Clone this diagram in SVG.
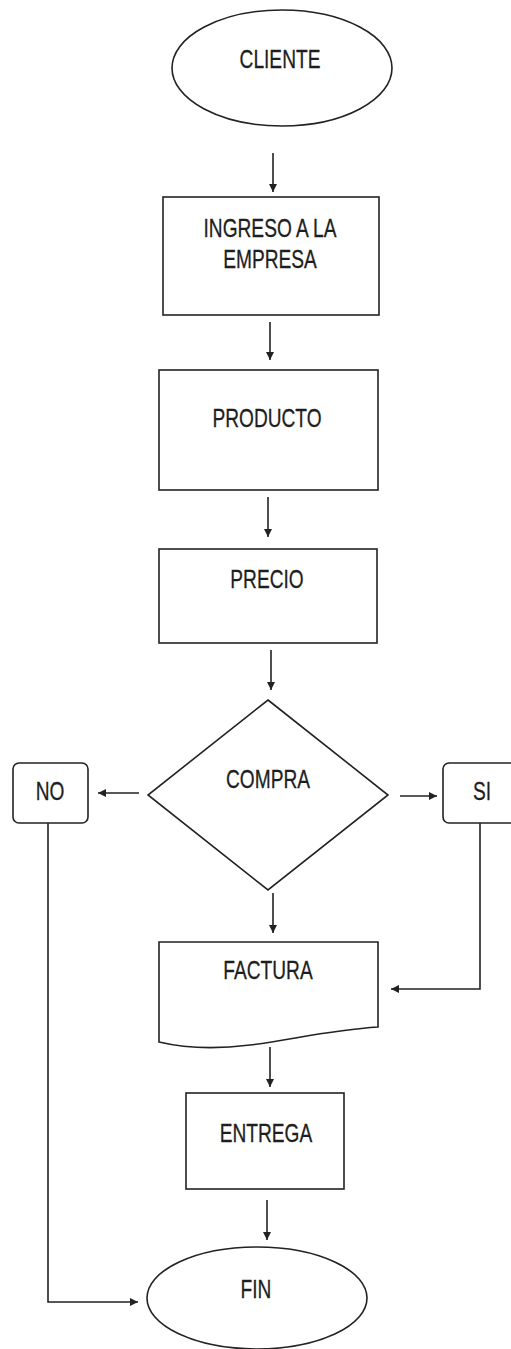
<svg xmlns="http://www.w3.org/2000/svg" width="511" height="1349" viewBox="0 0 511 1349">
<style>
.s{fill:#fff;stroke:#222;stroke-width:1.6}
.t{font-family:"Liberation Sans",Arial,sans-serif;font-size:22px;fill:#1e1e1e;text-anchor:middle;stroke:#1e1e1e;stroke-width:0.25}
.c{fill:none;stroke:#222;stroke-width:1.6}
</style>
<defs>
<marker id="ah" viewBox="0 0 10 10" refX="10" refY="5" markerWidth="9" markerHeight="8" markerUnits="userSpaceOnUse" orient="auto">
<path d="M0,0 L10,5 L0,10 z" fill="#222"/>
</marker>
</defs>
<rect width="511" height="1349" fill="#fff"/>
<g id="cliente"><ellipse class="s" cx="282" cy="68" rx="110" ry="58"/><text class="t" transform="translate(280,68) scale(0.87,1.2)">CLIENTE</text></g>
<g id="ingreso"><rect class="s" x="163" y="197" width="216" height="118"/><text class="t" transform="translate(270,237) scale(0.87,1.2)">INGRESO A LA</text><text class="t" transform="translate(270,268) scale(0.87,1.2)">EMPRESA</text></g>
<g id="producto"><rect class="s" x="159" y="370" width="219" height="120"/><text class="t" transform="translate(267,427) scale(0.87,1.2)">PRODUCTO</text></g>
<g id="precio"><rect class="s" x="159" y="549" width="218" height="94"/><text class="t" transform="translate(267,588) scale(0.87,1.2)">PRECIO</text></g>
<g id="compra"><polygon class="s" points="268,700 388,795 268,890 148,795"/><text class="t" transform="translate(268,788) scale(0.87,1.2)">COMPRA</text></g>
<g id="no"><rect class="s" x="13" y="763" width="75" height="60" rx="6"/><text class="t" transform="translate(50,800) scale(0.87,1.2)">NO</text></g>
<g id="si"><rect class="s" x="443" y="763" width="80" height="60" rx="6"/><text class="t" transform="translate(482,800) scale(0.87,1.2)">SI</text></g>
<g id="factura"><path class="s" d="M159,942 H378 V1027 C330,1030 290,1040 250,1045 C210,1050 180,1047 159,1042 Z"/><text class="t" transform="translate(268,979) scale(0.87,1.2)">FACTURA</text></g>
<g id="entrega"><rect class="s" x="186" y="1093" width="158" height="96"/><text class="t" transform="translate(266,1142) scale(0.87,1.2)">ENTREGA</text></g>
<g id="fin"><ellipse class="s" cx="257" cy="1298" rx="110" ry="51"/><text class="t" transform="translate(256,1298) scale(0.87,1.2)">FIN</text></g>
<g id="connectors">
<line class="c" x1="273" y1="153" x2="273" y2="192" marker-end="url(#ah)"/>
<line class="c" x1="270" y1="322" x2="270" y2="360" marker-end="url(#ah)"/>
<line class="c" x1="268" y1="497" x2="268" y2="537" marker-end="url(#ah)"/>
<line class="c" x1="271" y1="650" x2="271" y2="690" marker-end="url(#ah)"/>
<line class="c" x1="139" y1="793" x2="98" y2="793" marker-end="url(#ah)"/>
<line class="c" x1="400" y1="796" x2="437" y2="796" marker-end="url(#ah)"/>
<line class="c" x1="273" y1="893" x2="273" y2="933" marker-end="url(#ah)"/>
<polyline class="c" points="480,823 480,989 391,989" marker-end="url(#ah)"/>
<line class="c" x1="270" y1="1047" x2="270" y2="1087" marker-end="url(#ah)"/>
<line class="c" x1="267" y1="1200" x2="267" y2="1240" marker-end="url(#ah)"/>
<polyline class="c" points="48,823 48,1302 138,1302" marker-end="url(#ah)"/>
</g>
</svg>
